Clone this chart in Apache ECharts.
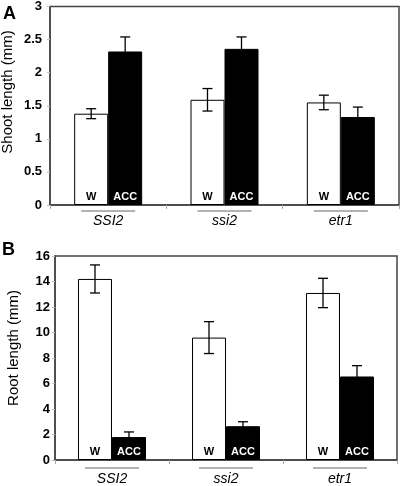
<!DOCTYPE html>
<html><head><meta charset="utf-8">
<script src="https://cdn.jsdelivr.net/npm/echarts@6/dist/echarts.min.js"></script>
<style>html,body{margin:0;padding:0;background:#fff}#c{width:400px;height:486px}</style>
</head><body><div id="c"></div>
<script>
const categories = ['SSI2', 'ssi2', 'etr1'];
const shootW = [1.38, 1.59, 1.55];
const shootWErr = [0.075, 0.17, 0.11];
const shootACC = [2.32, 2.36, 1.33];
const shootACCErr = [0.22, 0.18, 0.15];
const rootW = [14.2, 9.6, 13.1];
const rootWErr = [1.1, 1.25, 1.15];
const rootACC = [1.8, 2.65, 6.55];
const rootACCErr = [0.4, 0.35, 0.85];
const shootTicks = [0, 0.5, 1, 1.5, 2, 2.5, 3];
const rootTicks = [0, 2, 4, 6, 8, 10, 12, 14, 16];

const BW = 34;
const font = 'Liberation Sans, Arial, sans-serif';
const axisCol = '#444';

function errSeries(vals, errs, xi, yi, side) {
  return {
    type: 'custom', xAxisIndex: xi, yAxisIndex: yi, clip: false, z: 5,
    data: vals.map((v, i) => [i, v - errs[i], v + errs[i]]),
    renderItem: function (params, api) {
      const lo = api.coord([api.value(0), api.value(1)]);
      const hi = api.coord([api.value(0), api.value(2)]);
      const x = lo[0] + side * BW / 2;
      const cw = 5;
      const st = { stroke: '#000', lineWidth: 1.3 };
      return { type: 'group', children: [
        { type: 'line', shape: { x1: x, y1: lo[1], x2: x, y2: hi[1] }, style: st },
        { type: 'line', shape: { x1: x - cw, y1: hi[1], x2: x + cw, y2: hi[1] }, style: st },
        { type: 'line', shape: { x1: x - cw, y1: lo[1], x2: x + cw, y2: lo[1] }, style: st }
      ]};
    }
  };
}
function underline(xi, yi, off) {
  return {
    type: 'custom', xAxisIndex: xi, yAxisIndex: yi, clip: false, silent: true,
    data: categories.map((c, i) => [i, 0]),
    renderItem: function (params, api) {
      const p = api.coord([api.value(0), 0]);
      return { type: 'line', shape: { x1: p[0] - 27, y1: p[1] + off, x2: p[0] + 27, y2: p[1] + off },
        style: { stroke: '#666', lineWidth: 1 } };
    }
  };
}
function barW(data, xi, yi) {
  return { type: 'bar', xAxisIndex: xi, yAxisIndex: yi, data: data, barWidth: BW, barGap: '0%',
    itemStyle: { color: '#fff', borderColor: '#000', borderWidth: 1 },
    label: { show: true, position: 'insideBottom', distance: 3, formatter: 'W',
      color: '#000', fontWeight: 'bold', fontSize: 11, fontFamily: font } };
}
function barA(data, xi, yi) {
  return { type: 'bar', xAxisIndex: xi, yAxisIndex: yi, data: data, barWidth: BW, barGap: '0%',
    itemStyle: { color: '#000', borderColor: '#000', borderWidth: 1 },
    label: { show: true, position: 'insideBottom', distance: 3, formatter: 'ACC',
      color: '#fff', fontWeight: 'bold', fontSize: 11, fontFamily: font } };
}
function xAx(gi, margin) {
  return { type: 'category', gridIndex: gi, data: categories,
    axisLine: { lineStyle: { color: axisCol, width: 1.5 } },
    axisTick: { show: true, length: 4, lineStyle: { color: '#aaa' } },
    axisLabel: { fontStyle: 'italic', fontSize: 14, color: '#000', fontFamily: font, margin: margin } };
}
function yAx(gi, ticks, margin) {
  return { type: 'value', gridIndex: gi, min: ticks[0], max: ticks[ticks.length - 1],
    interval: ticks[1] - ticks[0], splitLine: { show: false },
    axisLine: { show: true, lineStyle: { color: axisCol, width: 1.5 } },
    axisTick: { show: true, length: 3, lineStyle: { color: '#bbb' } },
    axisLabel: { fontWeight: 'bold', fontSize: 13, color: '#000', fontFamily: font, margin: margin } };
}

const chart = echarts.init(document.getElementById('c'), null, { renderer: 'canvas' });
chart.setOption({
  animation: false,
  grid: [
    { left: 50, right: 1, top: 3, bottom: 281, show: true, borderColor: axisCol, borderWidth: 1.5, backgroundColor: 'transparent' },
    { left: 55, right: 3, top: 256, bottom: 26, show: true, borderColor: axisCol, borderWidth: 1.5, backgroundColor: 'transparent' }
  ],
  xAxis: [xAx(0, 9), xAx(1, 12)],
  yAxis: [yAx(0, shootTicks, 8), yAx(1, rootTicks, 5)],
  graphic: [
    { type: 'text', left: 3, top: 5, style: { text: 'A', font: 'bold 18px ' + font, fill: '#000' } },
    { type: 'text', left: 2, top: 241, style: { text: 'B', font: 'bold 18px ' + font, fill: '#000' } },
    { type: 'text', x: 8, y: 92, rotation: Math.PI / 2,
      style: { text: 'Shoot length (mm)', font: '15px ' + font, fill: '#000', align: 'center', verticalAlign: 'middle' } },
    { type: 'text', x: 14, y: 348, rotation: Math.PI / 2,
      style: { text: 'Root length (mm)', font: '15px ' + font, fill: '#000', align: 'center', verticalAlign: 'middle' } }
  ],
  series: [
    barW(shootW, 0, 0), barA(shootACC, 0, 0),
    errSeries(shootW, shootWErr, 0, 0, -1), errSeries(shootACC, shootACCErr, 0, 0, 1),
    underline(0, 0, 6),
    barW(rootW, 1, 1), barA(rootACC, 1, 1),
    errSeries(rootW, rootWErr, 1, 1, -1), errSeries(rootACC, rootACCErr, 1, 1, 1),
    underline(1, 1, 8)
  ]
});
</script></body></html>
